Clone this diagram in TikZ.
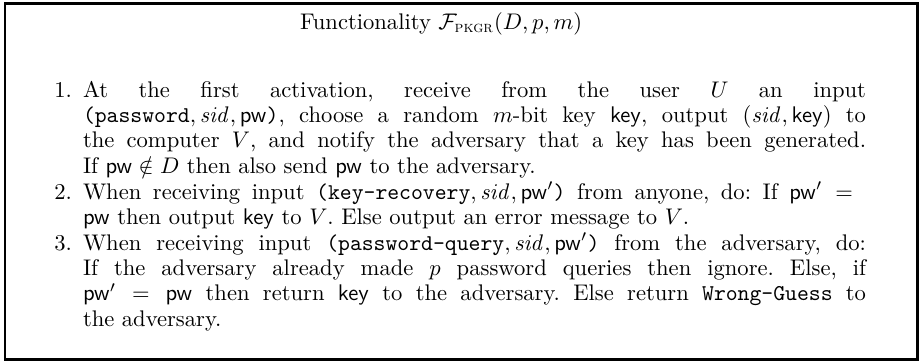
\documentclass[tikz,border=0pt]{standalone}
\usepackage{amsmath,amssymb}
\tikzset{
  frame/.style={draw=black, line width=1pt},
  txt/.style={inner sep=0pt, outer sep=0pt, anchor=base west},
  lbl/.style={inner sep=0pt, outer sep=0pt, anchor=base east},
}
\newcommand{\pwd}{\mathsf{pw}}
\newcommand{\keyv}{\mathsf{key}}
\newcommand{\itempar}[1]{\parbox[t]{346.5pt}{\frenchspacing\baselineskip=11.28pt\parindent=0pt #1}}
\begin{document}
\begin{tikzpicture}[x=0.4425pt,y=-0.4425pt]
\useasboundingbox (0,0) rectangle (919,362);
\draw[frame] (5,3.5) rectangle (917.5,359.5);
\node[txt] (title) at (300,29) {Functionality $\mathcal{F}_{\textsc{pkgr}}(D,p,m)$};
\node[lbl] (l1) at (72,97) {1.};
\node[txt] (i1) at (83,97) {\itempar{At the first activation, receive from the user $U$ an input\linebreak
\texttt{(password}$,\mathit{sid},\pwd$\texttt{)}, choose a random $m$-bit key $\keyv$, output $(\mathit{sid},\keyv)$ to\linebreak
the computer $V$, and notify the adversary that a key has been generated.\linebreak
If $\pwd\notin D$ then also send $\pwd$ to the adversary.}};
\node[lbl] (l2) at (72,199) {2.};
\node[txt] (i2) at (83,199) {\itempar{When receiving input \texttt{(key-recovery}$,\mathit{sid},\pwd'$\texttt{)} from anyone, do: If $\pwd'={}$\linebreak
$\pwd$ then output $\keyv$ to $V$. Else output an error message to $V$.}};
\node[lbl] (l3) at (72,250) {3.};
\node[txt] (i3) at (83,250) {\itempar{When receiving input \texttt{(password-query}$,\mathit{sid},\pwd'$\texttt{)} from the adversary, do:\linebreak
If the adversary already made $p$ password queries then ignore. Else, if\linebreak
$\pwd'=\pwd$ then return $\keyv$ to the adversary. Else return \texttt{Wrong-Guess} to\linebreak
the adversary.}};
\end{tikzpicture}
\end{document}
